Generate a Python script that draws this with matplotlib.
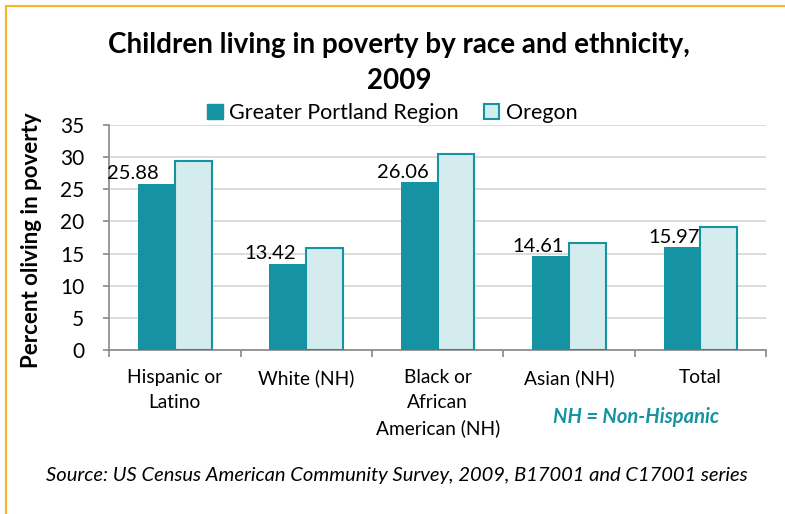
import matplotlib.pyplot as plt
import numpy as np
from matplotlib.patches import Patch
from matplotlib.lines import Line2D

categories = ["Hispanic or\nLatino", "White (NH)", "Black or\nAfrican\nAmerican (NH)", "Asian (NH)", "Total"]
portland = [25.88, 13.42, 26.06, 14.61, 15.97]
oregon = [29.4, 15.8, 30.5, 16.7, 19.1]

teal = "#1593a2"
light = "#d4eced"
plt.rcParams["font.family"] = ["Lato", "DejaVu Sans"]

fig = plt.figure(figsize=(7.85, 5.14), dpi=100)
ax = fig.add_axes([0.139, 0.319, 0.837, 0.438])

x = np.arange(len(categories))
w = 0.28
ax.bar(x - w / 2, portland, w, color=teal, zorder=3)
ax.bar(x + w / 2, oregon, w, color=light, edgecolor=teal, linewidth=1.5, zorder=3)

# value labels sit up and to the left of the regional bars
shifts = [-24, -18, -16, -13, -8]
for xi, v, s in zip(x, portland, shifts):
    ax.annotate(f"{v:.2f}", (xi - w / 2, v), xytext=(s * 0.72, 1), textcoords="offset points",
                ha="center", va="bottom", fontsize=14.5, zorder=4)

ax.set_xlim(-0.5, len(categories) - 0.5)
ax.set_ylim(0, 35)
ax.set_yticks(range(0, 36, 5))
ax.set_xticks(np.arange(-0.5, len(categories), 1))
ax.set_xticklabels([])
ax.set_xticks(x, minor=True)
ax.set_xticklabels(categories, minor=True, fontsize=13.8, linespacing=1.55, va="top")
ax.tick_params(axis="x", which="minor", length=0, pad=14)
ax.tick_params(axis="x", which="major", length=5, color="#888888", width=1.2)
ax.tick_params(axis="y", length=4, color="#888888", labelsize=15, width=1.2, pad=14)
ax.grid(axis="y", color="#d9d9d9", linewidth=1.3, zorder=0)
for side in ["top", "right"]:
    ax.spines[side].set_visible(False)
for side in ["left", "bottom"]:
    ax.spines[side].set_color("#888888")
    ax.spines[side].set_linewidth(1.2)

ax.set_ylabel("Percent oliving in poverty", fontsize=16, fontweight="bold")
ax.yaxis.set_label_coords(-0.102, 0.489)

fig.text(0.508, 0.877, "Children living in poverty by race and ethnicity,\n2009",
         ha="center", va="center", fontsize=20, fontweight="bold", linespacing=1.5)

handles = [Patch(facecolor=teal, edgecolor=teal),
           Patch(facecolor=light, edgecolor=teal, linewidth=1.5)]
fig.legend(handles, ["Greater Portland Region", "Oregon"], loc="center",
           bbox_to_anchor=(0.5, 0.78), ncol=2, frameon=False, fontsize=15.5,
           handlelength=0.7, handleheight=0.7, handletextpad=0.3, columnspacing=1.2)

fig.text(0.81, 0.188, "NH = Non-Hispanic", color=teal, fontsize=14.5, fontweight="bold",
         style="italic", ha="center", va="center")
fig.text(0.506, 0.074, "Source: US Census American Community Survey, 2009, B17001 and C17001 series",
         fontsize=14.5, style="italic", ha="center", va="center")

# orange frame along the top and left edges
border = "#f7b52c"
fig.add_artist(Line2D([0.008, 1.0], [0.989, 0.989], color=border, linewidth=1.5, transform=fig.transFigure))
fig.add_artist(Line2D([0.008, 0.008], [0.0, 0.989], color=border, linewidth=1.5, transform=fig.transFigure))

fig.savefig("out.png", dpi=100)
